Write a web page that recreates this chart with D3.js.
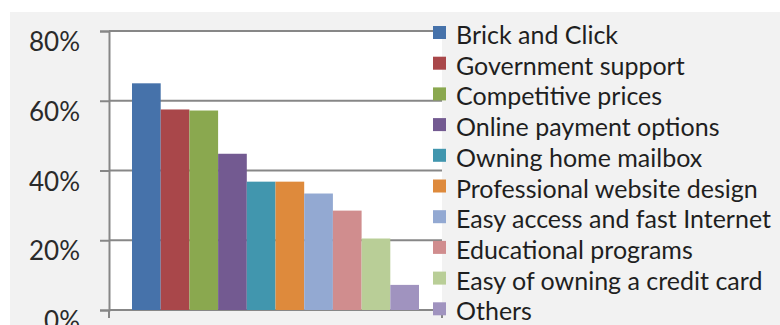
<!DOCTYPE html>
<html>
<head>
<meta charset="utf-8">
<script src="https://cdn.jsdelivr.net/npm/d3@7"></script>
<style>
  body { margin: 0; background: #fff; }
  svg { display: block; }
  text { font-family: Lato, "Open Sans", sans-serif; }
</style>
</head>
<body>
<svg id="chart" width="780" height="325"></svg>
<script>
const categories = ['Brick and Click', 'Government support', 'Competitive prices',
  'Online payment options', 'Owning home mailbox', 'Professional website design',
  'Easy access and fast Internet', 'Educational programs',
  'Easy of owning a credit card', 'Others'];
const values = [0.65, 0.575, 0.572, 0.448, 0.368, 0.368, 0.334, 0.285, 0.205, 0.072];
const colors = ['#4672AA', '#A9474A', '#8AA84F', '#735A91', '#4196AE', '#DE8A3C',
  '#93A9D2', '#D08D8E', '#B9CE97', '#A093BF'];
const yTicks = [0, 0.2, 0.4, 0.6, 0.8];

const svg = d3.select('#chart');

// grey chart background
svg.append('rect')
  .attr('x', 10).attr('y', 12).attr('width', 770).attr('height', 313)
  .attr('fill', '#f2f2f2');

const plot = { left: 109, right: 442, top: 31, bottom: 310 };

const y = d3.scaleLinear().domain([0, 0.8]).range([plot.bottom, plot.top]);
const x = d3.scaleBand().domain(d3.range(categories.length))
  .range([132, 419]).paddingInner(0);

svg.append('rect')
  .attr('x', plot.left).attr('y', plot.top)
  .attr('width', plot.right - plot.left).attr('height', plot.bottom - plot.top)
  .attr('fill', '#fff');

// gridlines
svg.append('g').selectAll('line')
  .data(yTicks)
  .enter().append('line')
  .attr('x1', plot.left).attr('x2', plot.right)
  .attr('y1', d => y(d)).attr('y2', d => y(d))
  .attr('stroke', '#878787').attr('stroke-width', 2);

// bars
svg.append('g').selectAll('rect')
  .data(values)
  .enter().append('rect')
  .attr('x', (d, i) => x(i))
  .attr('width', x.bandwidth())
  .attr('y', d => y(d))
  .attr('height', d => y(0) - y(d))
  .attr('fill', (d, i) => colors[i]);

// y axis
const yAxis = svg.append('g')
  .attr('transform', `translate(${plot.left},0)`)
  .call(d3.axisLeft(y).tickValues(yTicks).tickSize(9).tickPadding(20)
    .tickFormat(d3.format('.0%')));
yAxis.select('.domain').attr('stroke', '#878787').attr('stroke-width', 2);
yAxis.selectAll('.tick line').attr('stroke', '#878787').attr('stroke-width', 2);
yAxis.selectAll('text')
  .attr('font-size', 26).attr('fill', '#2a2a2a').attr('dy', '0.75em')
  .style('font-family', 'Lato, sans-serif');

// x axis end ticks
svg.append('g').selectAll('line')
  .data([plot.left, plot.right])
  .enter().append('line')
  .attr('x1', d => d).attr('x2', d => d)
  .attr('y1', plot.bottom).attr('y2', plot.bottom + 8)
  .attr('stroke', '#878787').attr('stroke-width', 2);

// legend
const legend = svg.append('g').selectAll('g')
  .data(categories)
  .enter().append('g')
  .attr('transform', (d, i) => `translate(433,${26 + i * 30.7})`);
legend.append('rect')
  .attr('width', 13).attr('height', 13)
  .attr('fill', (d, i) => colors[i]);
legend.append('text')
  .attr('x', 23).attr('y', 18)
  .attr('font-size', 25).attr('fill', '#1f1f1f')
  .text(d => d);
</script>
</body>
</html>
